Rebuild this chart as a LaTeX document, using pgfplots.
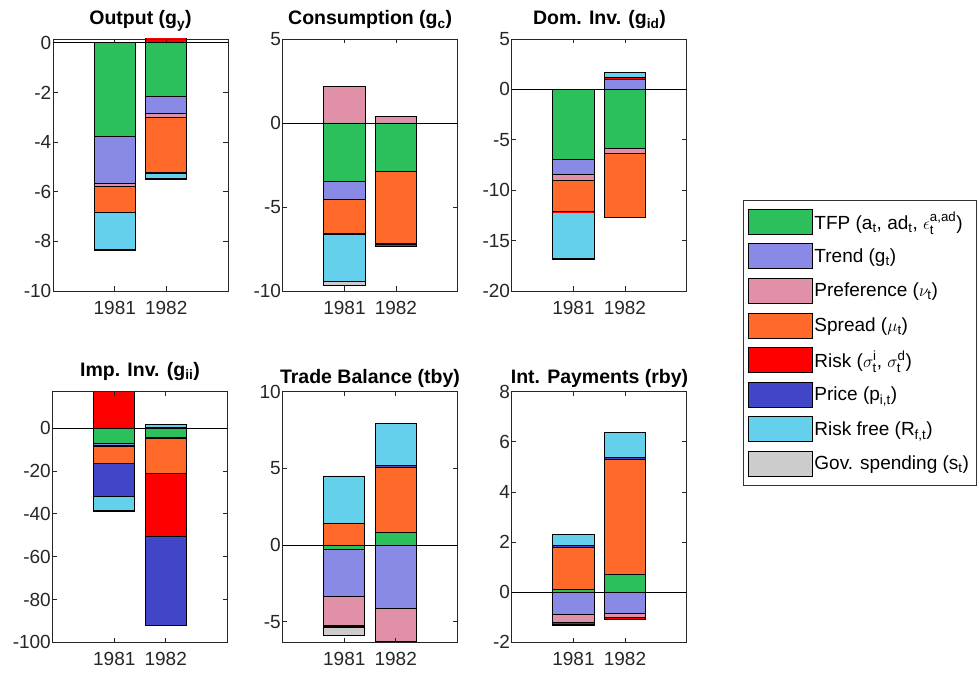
\documentclass[border=0pt]{standalone}
\usepackage{amsmath}
\usepackage{fontspec}
\setmainfont{Liberation Sans}
\usepackage{pgfplots}
\usepackage{pgfplotstable}
\pgfplotsset{compat=1.18}

\definecolor{cTFP}{RGB}{44,192,92}
\definecolor{cTrend}{RGB}{136,138,230}
\definecolor{cPref}{RGB}{224,145,168}
\definecolor{cSpread}{RGB}{255,106,42}
\definecolor{cRisk}{RGB}{255,0,0}
\definecolor{cPrice}{RGB}{65,70,200}
\definecolor{cRf}{RGB}{100,208,236}
\definecolor{cGov}{RGB}{204,204,204}

% contributions by shock (x=1: 1981, x=2: 1982)
\pgfplotstableread{
x tfp trend pref spread risk price rf gov
1 -3.77 -1.90 -0.13 -1.02 -0.02 -0.01 -1.47 -0.05
2 -2.18 -0.68 -0.13 -2.25 0.30 -0.01 -0.22 -0.02
}\tOut
\pgfplotstableread{
x tfp trend pref spread risk price rf gov
1 -3.50 -1.05 2.19 -2.05 -0.02 -0.03 -2.79 -0.22
2 -2.88 -0.01 0.40 -4.30 -0.01 -0.12 -0.02 -0.01
}\tCons
\pgfplotstableread{
x tfp trend pref spread risk price rf gov
1 -6.98 -1.45 -0.56 -3.14 -0.02 -0.02 -4.59 -0.10
2 -5.85 1.02 -0.53 -6.31 0.15 0.02 0.48 -0.04
}\tDom
\pgfplotstableread{
x tfp trend pref spread risk price rf gov
1 -7.00 -1.30 -0.30 -7.90 18.0 -15.28 -6.85 -0.10
2 -4.52 0.50 -0.40 -16.26 -29.60 -41.42 1.37 -0.05
}\tImp
\pgfplotstableread{
x tfp trend pref spread risk price rf gov
1 -0.26 -3.11 -1.85 1.41 -0.11 -0.02 3.09 -0.54
2 0.83 -4.15 -2.11 4.26 -0.02 0.09 2.73 -0.10
}\tTB
\pgfplotstableread{
x tfp trend pref spread risk price rf gov
1 0.12 -0.90 -0.31 1.66 -0.09 0.09 0.44 -0.02
2 0.72 -0.85 -0.16 4.56 -0.07 0.11 0.98 -0.01
}\tIP

\pgfplotsset{
  seg/.style={fill=#1, draw=black, line width=0.8pt},
  frame/.style={scale only axis, width=175pt, xmin=-0.2, xmax=3.2, anchor=south west,
    xtick={1,2}, xticklabels={1981,1982},
    axis line style={black!85, line width=0.7pt},
    tick style={black!85, line width=0.7pt}, major tick length=4.5pt, tick align=inside,
    ticklabel style={font=\fontsize{19}{20}\selectfont, text=black!85},
    /pgf/number format/assume math mode=true,
    yticklabel style={inner xsep=1.5pt},
    xticklabel style={inner ysep=10pt}},
  bars/.style={scale only axis, width=175pt, xmin=-0.2, xmax=3.2, anchor=south west,
    hide axis, clip=true, ybar stacked, bar width=0.8},
}

\newcommand{\segs}[2]{%
  \addplot[seg=cTFP] table[x=x, y expr={#2(\thisrow{tfp},0)}] {#1};
  \addplot[seg=cTrend] table[x=x, y expr={#2(\thisrow{trend},0)}] {#1};
  \addplot[seg=cPref] table[x=x, y expr={#2(\thisrow{pref},0)}] {#1};
  \addplot[seg=cSpread] table[x=x, y expr={#2(\thisrow{spread},0)}] {#1};
  \addplot[seg=cRisk] table[x=x, y expr={#2(\thisrow{risk},0)}] {#1};
  \addplot[seg=cPrice] table[x=x, y expr={#2(\thisrow{price},0)}] {#1};
  \addplot[seg=cRf] table[x=x, y expr={#2(\thisrow{rf},0)}] {#1};
  \addplot[seg=cGov] table[x=x, y expr={#2(\thisrow{gov},0)}] {#1};
}

% #1 xleft #2 ybottom #3 height #4 table #5 ymin #6 ymax #7 yticks
\newcommand{\panel}[7]{%
  \begin{axis}[bars, at={(#1pt,#2pt)}, height=#3pt, ymin=#5, ymax=#6]
    \segs{#4}{max}
  \end{axis}
  \begin{axis}[bars, at={(#1pt,#2pt)}, height=#3pt, ymin=#5, ymax=#6]
    \segs{#4}{min}
  \end{axis}
  \begin{axis}[frame, at={(#1pt,#2pt)}, height=#3pt, ymin=#5, ymax=#6, ytick={#7}]
    \addplot[black, line width=0.6pt, forget plot] coordinates {(-0.2,0) (3.2,0)};
  \end{axis}
}

\begin{document}
\begin{tikzpicture}
\path[use as bounding box] (0pt,0pt) rectangle (979pt,675pt);

\panel{53}{384}{252}{\tOut}{-10}{0.15}{-10,-8,...,0}
\panel{282.7}{384}{252}{\tCons}{-10}{5}{-10,-5,0,5}
\panel{511.7}{384}{252}{\tDom}{-20}{5}{-20,-15,...,5}
\panel{52.5}{32.7}{250.6}{\tImp}{-100}{17}{-100,-80,...,0}
\panel{282.5}{32.7}{250.6}{\tTB}{-6.35}{10}{-5,0,5,10}
\panel{511.7}{32.7}{250.6}{\tIP}{-2}{8}{-2,0,...,8}

\begin{scope}[every node/.style={anchor=base, font=\bfseries\fontsize{19.5}{21}\selectfont}]
\node at (140.5pt,650pt) {Output (g$_{\text{y}}$)};
\node at (370.2pt,650pt) {Consumption (g$_{\text{c}}$)};
\node at (599.5pt,650pt) {Dom. Inv. (g$_{\text{id}}$)};
\node at (140pt,298.3pt) {Imp. Inv. (g$_{\text{ii}}$)};
\node at (370pt,291pt) {Trade Balance (tby)};
\node at (599.5pt,291pt) {Int. Payments (rby)};
\end{scope}

\begin{axis}[at={(743pt,190pt)}, anchor=south west, scale only axis, width=229pt, height=285pt,
  hide axis, xmin=0, xmax=1, ymin=0, ymax=1,
  legend style={at={(0,1)}, anchor=north west, draw=black!80, line width=0.7pt,
    inner xsep=5pt, inner ysep=4pt, row sep=0pt,
    font=\fontsize{19}{20}\selectfont, cells={anchor=west}},
  legend cell align=left,
  legend image code/.code={\path[draw=none, fill=none] (0pt,-17.3pt) rectangle (63.4pt,17.3pt);
    \path[#1, line width=0.7pt] (0pt,-12.5pt) rectangle (63.4pt,12.5pt);}]
\addlegendimage{fill=cTFP, draw=black}
\addlegendentry{TFP (a$_{\text{t}}$, ad$_{\text{t}}$, $\epsilon^{\text{a,ad}}_{\text{t}}$)}
\addlegendimage{fill=cTrend, draw=black}
\addlegendentry{Trend (g$_{\text{t}}$)}
\addlegendimage{fill=cPref, draw=black}
\addlegendentry{Preference ($\nu_{\text{t}}$)}
\addlegendimage{fill=cSpread, draw=black}
\addlegendentry{Spread ($\mu_{\text{t}}$)}
\addlegendimage{fill=cRisk, draw=black}
\addlegendentry{Risk ($\sigma^{\text{i}}_{\text{t}}$, $\sigma^{\text{d}}_{\text{t}}$)}
\addlegendimage{fill=cPrice, draw=black}
\addlegendentry{Price (p$_{\text{i,t}}$)}
\addlegendimage{fill=cRf, draw=black}
\addlegendentry{Risk free (R$_{\text{f,t}}$)}
\addlegendimage{fill=cGov, draw=black}
\addlegendentry{Gov. spending (s$_{\text{t}}$)}
\end{axis}
\end{tikzpicture}
\end{document}
